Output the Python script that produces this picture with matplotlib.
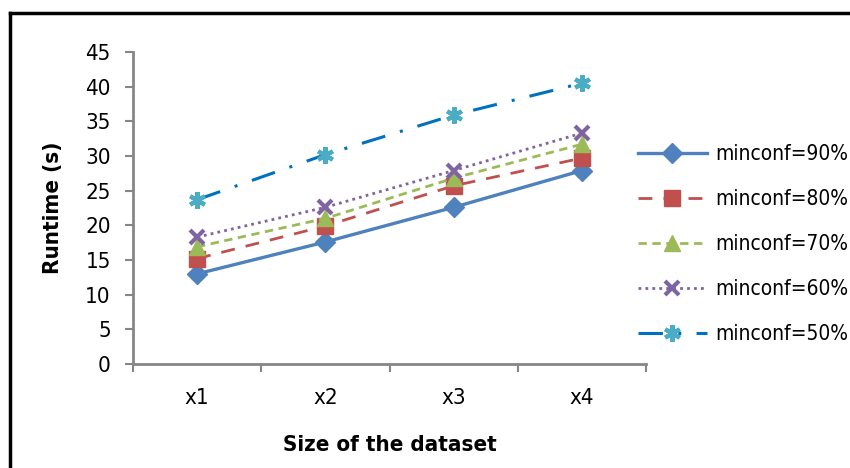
import matplotlib.pyplot as plt
from matplotlib.lines import Line2D

plt.rcParams["font.family"] = ["DejaVu Sans"]
plt.rcParams["font.stretch"] = "condensed"

categories = ["x1", "x2", "x3", "x4"]
labels = ["minconf=90%", "minconf=80%", "minconf=70%", "minconf=60%", "minconf=50%"]
rt_90 = [13.0, 17.6, 22.6, 27.9]
rt_80 = [15.2, 19.9, 25.7, 29.7]
rt_70 = [16.9, 21.0, 26.8, 31.7]
rt_60 = [18.3, 22.6, 27.9, 33.3]
rt_50 = [23.7, 30.2, 35.9, 40.5]
series = [rt_90, rt_80, rt_70, rt_60, rt_50]

styles = [
    dict(color="#4F81BD", ls="-", lw=2.4, marker="D", ms=10, mfc="#4F81BD", mec="#4F81BD"),
    dict(color="#C0504D", ls=(0, (5, 4)), lw=2.0, marker="s", ms=11, mfc="#C0504D", mec="#C0504D"),
    dict(color="#9BBB59", ls=(0, (3, 2)), lw=2.0, marker="^", ms=11, mfc="#9BBB59", mec="#9BBB59"),
    dict(color="#8064A2", ls=(0, (1, 1.5)), lw=2.0, marker="x", ms=10, mew=3, mec="#8064A2"),
    dict(color="#0070C0", ls=(0, (8, 5, 1, 5)), lw=2.2, marker=(6, 2, 0), ms=12, mew=3, mec="#4BACC6"),
]

fig = plt.figure(figsize=(8.5, 4.68), dpi=100)
ax = fig.add_axes([133 / 850, 1 - 364 / 468, (646 - 133) / 850, (364 - 52) / 468])

x = list(range(len(categories)))
for vals, st in zip(series, styles):
    ax.plot(x, vals, **st)

ax.set_xlim(-0.5, 3.5)
ax.set_ylim(0, 45)
ax.set_yticks(range(0, 46, 5))
ax.set_xticks([-0.5, 0.5, 1.5, 2.5, 3.5])
ax.set_xticklabels([])
ax.set_xticks(x, minor=True)
ax.set_xticklabels(categories, minor=True)

gray = "#868686"
for side in ("top", "right"):
    ax.spines[side].set_visible(False)
for side in ("left", "bottom"):
    ax.spines[side].set_color(gray)
    ax.spines[side].set_linewidth(2)
ax.tick_params(axis="y", which="major", direction="out", length=6, width=1.5, color=gray,
               labelsize=16, pad=10)
ax.tick_params(axis="x", which="major", direction="out", length=6, width=1.5, color=gray)
ax.tick_params(axis="x", which="minor", length=0, labelsize=16, pad=17)

ax.set_ylabel("Runtime (s)", fontsize=16, fontweight="bold", labelpad=16)
ax.set_xlabel("Size of the dataset", fontsize=16, fontweight="bold", labelpad=20)

handles = [Line2D([], [], **st) for st in styles]
fig.legend(handles, labels, loc="upper left", bbox_to_anchor=(638 / 850, 1 - 144 / 468),
           frameon=False, fontsize=15, handlelength=3.3, labelspacing=1.2,
           handletextpad=0.4, borderaxespad=0, borderpad=0)

# chart-area border
fig.add_artist(Line2D([10 / 850, 1], [1 - 13 / 468] * 2, color="black", lw=2.5))
fig.add_artist(Line2D([10 / 850] * 2, [0, 1 - 13 / 468], color="black", lw=2.5))

fig.savefig("out.png", dpi=100)
